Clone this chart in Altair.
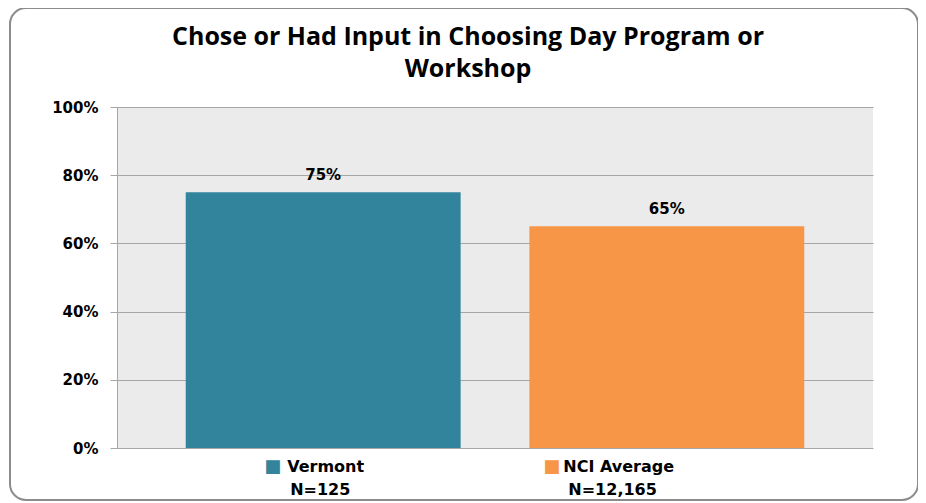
import altair as alt
import pandas as pd

categories = ["Vermont", "NCI Average"]
values = [0.75, 0.65]
sample_sizes = ["N=125", "N=12,165"]
y_ticks = [0, 0.2, 0.4, 0.6, 0.8, 1.0]
title_lines = ["Chose or Had Input in Choosing Day Program or", "Workshop"]

colors = ["#31849B", "#F79646"]
W, H = 756, 341
FONT = "DejaVu Sans"

df = pd.DataFrame({"cat": categories, "value": values, "n": sample_sizes})

xenc = alt.X("cat:N", sort=categories, axis=None,
             scale=alt.Scale(paddingInner=0.2, paddingOuter=0.2))
cenc = alt.Color("cat:N", scale=alt.Scale(domain=categories, range=colors), legend=None)

base = alt.Chart(df)

bars = base.mark_bar().encode(
    x=xenc,
    y=alt.Y("value:Q", scale=alt.Scale(domain=[0, 1]),
            axis=alt.Axis(values=y_ticks, format=".0%", title=None,
                          grid=True, gridColor="#A6A6A6", domainColor="#A6A6A6",
                          tickColor="#A6A6A6", tickSize=7, labelPadding=12,
                          labelFont=FONT, labelFontSize=15, labelFontWeight="bold",
                          labelColor="#000000")),
    color=cenc,
)

labels = base.mark_text(dy=-12, baseline="alphabetic", font=FONT, fontSize=15,
                        fontWeight="bold", color="#000000").encode(
    x=xenc, y="value:Q", text=alt.Text("value:Q", format=".0%"))

# legend-like captions under each bar
offsets = {
    "Vermont": (-50.5, -36, -33),
    "NCI Average": (-115, -103.5, -98.5),
}
caption_layers = []
for cat in categories:
    sq_off, l1_off, l2_off = offsets[cat]
    sub = base.transform_filter(alt.datum.cat == cat)
    caption_layers.append(sub.mark_text(text="\u25A0", align="center", baseline="middle",
                                        dx=sq_off, font=FONT, fontSize=18).encode(
        x=xenc, y=alt.value(H + 19), color=cenc))
    caption_layers.append(sub.mark_text(align="left", baseline="middle", dx=l1_off, font=FONT,
                                        fontSize=16, fontWeight="bold", color="#000000").encode(
        x=xenc, y=alt.value(H + 19), text="cat:N"))
    caption_layers.append(sub.mark_text(align="left", baseline="middle", dx=l2_off, font=FONT,
                                        fontSize=16, fontWeight="bold", color="#000000").encode(
        x=xenc, y=alt.value(H + 42), text="n:N"))

one = alt.Chart(pd.DataFrame({"a": [0]}))
border = one.mark_rect(
    fill="transparent", stroke="#8C8C8C", strokeWidth=2, cornerRadius=16).encode(
    x=alt.value(-107), x2=alt.value(801), y=alt.value(-99), y2=alt.value(393))

title = one.mark_text(text=title_lines, align="center", baseline="middle", font="Open Sans",
                      fontSize=25, fontWeight="bold", color="#000000", lineHeight=32).encode(
    x=alt.value(W / 2 - 27), y=alt.value(-70))

chart = alt.layer(bars, labels, *caption_layers, border, title).properties(
    width=W, height=H,
    autosize=alt.AutoSizeParams(type="none"),
    padding={"left": 109, "top": 99, "right": 45, "bottom": 55},
    background="#FFFFFF",
).configure_view(fill="#EBEBEB", stroke=None)

chart.save("out.html", embed_options={"renderer": "svg", "actions": False})
